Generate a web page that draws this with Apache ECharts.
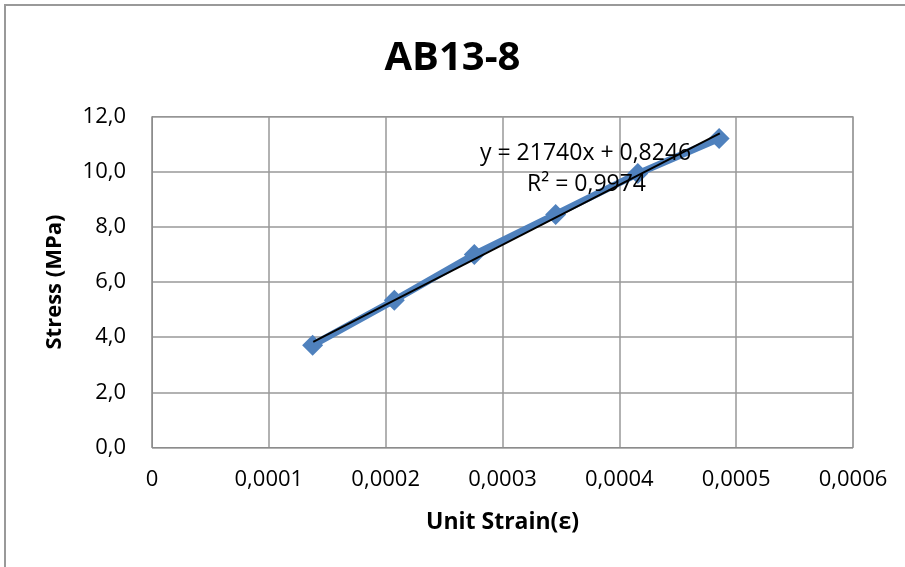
<!DOCTYPE html>
<html><head><meta charset="utf-8">
<script src="https://cdn.jsdelivr.net/npm/echarts@6/dist/echarts.min.js"></script>
<style>html,body{margin:0;padding:0;background:#fff}#c{width:905px;height:567px}</style>
</head><body><div id="c"></div>
<script>
const strain = [0.0001375, 0.0002074, 0.0002759, 0.0003455, 0.0004158, 0.0004854];
const stress = [3.71, 5.34, 7.00, 8.45, 9.93, 11.20];
const trendX = [0.000138, 0.000486];
const trendY = [3.83, 11.39];
const xTicks = ['0','0,0001','0,0002','0,0003','0,0004','0,0005','0,0006'];
const yTicks = ['0,0','2,0','4,0','6,0','8,0','10,0','12,0'];
const title = 'AB13-8';
const eqText = ['y = 21740x + 0,8246', 'R² = 0,9974'];

const font = "'Open Sans', 'Noto Sans', sans-serif";
const chart = echarts.init(document.getElementById('c'));
chart.setOption({
  animation: false,
  backgroundColor: '#fff',
  title: { text: title, left: 'center', top: 34, textStyle: { fontFamily: font, fontSize: 40, fontWeight: 'bold', color: '#000' } },
  grid: { left: 152, right: 52, top: 116.5, bottom: 119.5, show: true, borderColor: '#8c8c8c', borderWidth: 1 },
  xAxis: {
    type: 'value', min: 0, max: 0.0006, interval: 0.0001,
    name: 'Unit Strain(ε)', nameLocation: 'middle', nameGap: 63,
    nameTextStyle: { fontFamily: font, fontSize: 23, fontWeight: 'bold', color: '#000' },
    axisLine: { show: true, lineStyle: { color: '#8c8c8c' } },
    axisTick: { show: false },
    axisLabel: { fontFamily: font, fontSize: 22, color: '#000', margin: 21,
      formatter: v => xTicks[Math.round(v / 0.0001)] },
    splitLine: { show: true, lineStyle: { color: '#999', width: 1.5 } }
  },
  yAxis: {
    type: 'value', min: 0, max: 12, interval: 2,
    name: 'Stress (MPa)', nameLocation: 'middle', nameGap: 86, nameRotate: 90,
    nameTextStyle: { fontFamily: font, fontSize: 22, fontWeight: 'bold', color: '#000' },
    axisLine: { show: true, lineStyle: { color: '#8c8c8c' } },
    axisTick: { show: false },
    axisLabel: { fontFamily: font, fontSize: 22, color: '#000', margin: 26,
      formatter: v => yTicks[Math.round(v / 2)] },
    splitLine: { show: true, lineStyle: { color: '#999', width: 1.5 } }
  },
  series: [
    { type: 'line', data: strain.map((x, i) => [x, stress[i]]),
      symbol: 'diamond', symbolSize: 21,
      lineStyle: { color: '#4F81BD', width: 7 },
      itemStyle: { color: '#4F81BD' }, z: 2 },
    { type: 'line', data: trendX.map((x, i) => [x, trendY[i]]),
      symbol: 'none', lineStyle: { color: '#000', width: 2 }, z: 3 }
  ],
  graphic: [
    { type: 'rect', shape: { x: 5, y: 5, width: 940, height: 600 }, style: { fill: 'none', stroke: '#999', lineWidth: 2 }, silent: true },
    { type: 'text', left: 480, top: 142, style: { text: eqText[0], font: "23px 'Open Sans', sans-serif", fill: '#000' }, z: 10 },
    { type: 'text', left: 527, top: 173, style: { text: eqText[1], font: "23px 'Open Sans', sans-serif", fill: '#000' }, z: 10 }
  ]
});
</script></body></html>
